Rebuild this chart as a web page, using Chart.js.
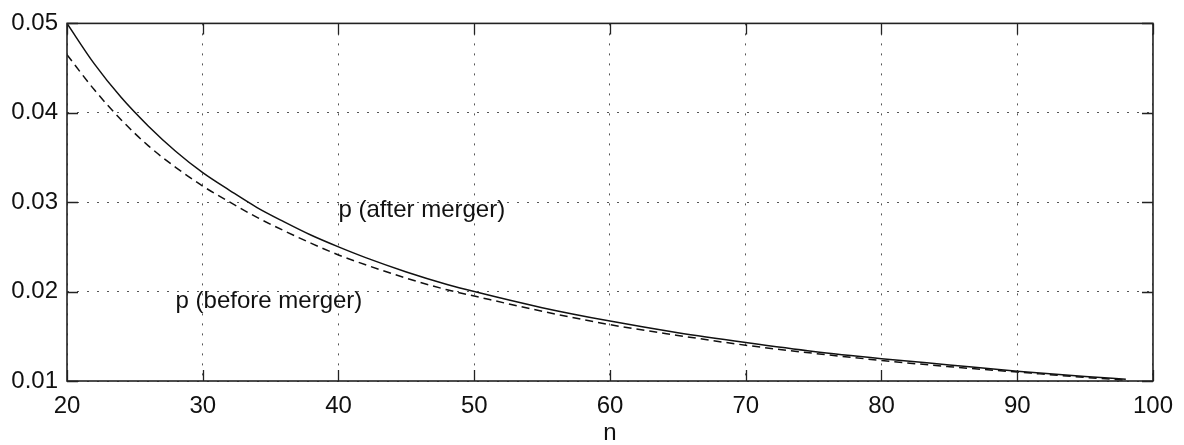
<!DOCTYPE html>
<html>
<head>
<meta charset="utf-8">
<script src="https://cdn.jsdelivr.net/npm/chart.js@4.4.1/dist/chart.umd.min.js"></script>
<style>
html,body{margin:0;padding:0;background:#fff;}
#wrap{width:1184px;height:445px;position:relative;}
</style>
</head>
<body>
<div id="wrap"><canvas id="c" width="1184" height="445"></canvas></div>
<script>
// ---- data ----
const nValues = [20,22,24,26,28,30,32,34,36,38,40,42,45,48,50,55,60,65,70,75,80,85,90,95,98];
const pAfter  = [0.0500,0.0455,0.0417,0.0385,0.0357,0.0333,0.0313,0.0294,0.0278,0.0263,0.0250,0.0238,0.0222,0.0208,0.0200,0.0182,0.0167,0.0154,0.0143,0.0133,0.0125,0.0118,0.0111,0.0105,0.0102];
const pBefore = [0.0465,0.0426,0.0392,0.0363,0.0339,0.0318,0.0300,0.0283,0.0268,0.0254,0.0241,0.0230,0.0215,0.0202,0.0195,0.0178,0.0163,0.0151,0.0140,0.0131,0.0123,0.0116,0.0110,0.0104,0.0101];
const xTicks = [20,30,40,50,60,70,80,90,100];
const yTicks = [0.01,0.02,0.03,0.04,0.05];
const annoText = ['p (after merger)','p (before merger)'];
const annoN    = [40, 28];
const annoP    = [0.0291, 0.0189];
const xTitle = 'n';

const FONT = 'Liberation Sans, Arial, Helvetica, sans-serif';
const FS = 24;
const INK = '#111';

const toPts = (xs, ys) => xs.map((x,i)=>({x:x, y:ys[i]}));

const framePlugin = {
  id:'frame',
  afterDatasetsDraw(chart){
    const {ctx, chartArea:a, scales} = chart;
    ctx.save();
    ctx.strokeStyle = '#222';
    ctx.lineWidth = 1.3;
    ctx.setLineDash([]);
    // inward ticks
    const L = 11;
    ctx.beginPath();
    xTicks.forEach(v=>{
      const px = Math.round(scales.x.getPixelForValue(v))+0.5;
      ctx.moveTo(px,a.bottom); ctx.lineTo(px,a.bottom-L);
      ctx.moveTo(px,a.top); ctx.lineTo(px,a.top+L);
    });
    yTicks.forEach(v=>{
      const py = Math.round(scales.y.getPixelForValue(v))+0.5;
      ctx.moveTo(a.left,py); ctx.lineTo(a.left+L,py);
      ctx.moveTo(a.right,py); ctx.lineTo(a.right-L,py);
    });
    ctx.stroke();
    ctx.lineWidth = 1.6;
    ctx.strokeRect(a.left, a.top, a.right-a.left, a.bottom-a.top);
    // annotations
    ctx.fillStyle = INK;
    ctx.font = FS + 'px ' + FONT;
    ctx.textAlign = 'left';
    ctx.textBaseline = 'middle';
    annoText.forEach((t,i)=>{
      ctx.fillText(t, scales.x.getPixelForValue(annoN[i]), scales.y.getPixelForValue(annoP[i]));
    });
    ctx.restore();
  }
};

new Chart(document.getElementById('c'), {
  type:'line',
  data:{
    datasets:[
      {label:'p (after merger)', data:toPts(nValues,pAfter), borderColor:'#111', borderWidth:1.5, pointRadius:0, tension:0.4, cubicInterpolationMode:'monotone', fill:false},
      {label:'p (before merger)', data:toPts(nValues,pBefore), borderColor:'#111', borderWidth:1.5, borderDash:[8,5], pointRadius:0, tension:0.4, cubicInterpolationMode:'monotone', fill:false}
    ]
  },
  options:{
    responsive:false,
    animation:false,
    devicePixelRatio:1,
    layout:{padding:{top:19,right:27,left:0,bottom:0}},
    plugins:{legend:{display:false}, tooltip:{enabled:false}},
    scales:{
      x:{
        type:'linear', min:20, max:100,
        afterBuildTicks(s){ s.ticks = xTicks.map(v=>({value:v})); },
        afterFit(s){ s.height = 64; },
        grid:{color:'#555', lineWidth:1, drawTicks:false},
        border:{display:false, dash:[2,8]},
        ticks:{color:INK, padding:11, font:{family:FONT,size:FS}, maxRotation:0, callback:v=>String(v)},
        title:{display:true, text:xTitle, color:INK, font:{family:FONT,size:FS,lineHeight:1}, padding:{top:0,bottom:0}}
      },
      y:{
        type:'linear', min:0.01, max:0.05,
        afterBuildTicks(s){ s.ticks = yTicks.map(v=>({value:v})); },
        afterFit(s){ s.width = 67; },
        grid:{color:'#555', lineWidth:1, drawTicks:false},
        border:{display:false, dash:[2,8]},
        ticks:{color:INK, padding:9, font:{family:FONT,size:FS}, callback:v=>Number(v).toFixed(2)}
      }
    }
  },
  plugins:[framePlugin]
});
</script>
</body>
</html>
